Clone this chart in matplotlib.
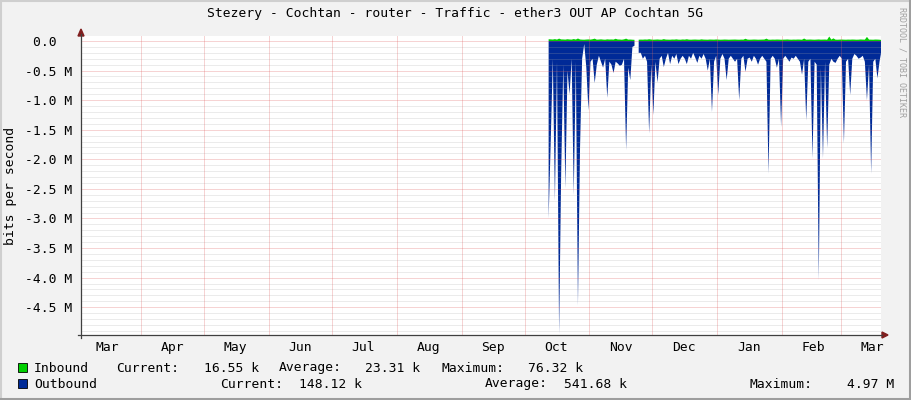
import numpy as np
import matplotlib
matplotlib.use("Agg")
import matplotlib.pyplot as plt
from matplotlib.patches import Polygon, Rectangle
import datetime as dt

W, H = 911, 400
nan = float("nan")

title = "Stezery - Cochtan - router - Traffic - ether3 OUT AP Cochtan 5G"
ylabel = "bits per second"

x_start = dt.datetime(2022, 3, 3, 5)
x_end = dt.datetime(2023, 3, 20, 5)
data_start = dt.datetime(2022, 10, 12, 0)

# Outbound traffic, Mbit/s, one value per day from 2022-10-12 (drawn negative)
outbound_M = [
    3.0, 1.7, 0.3, 2.7, 0.35, 4.95, 2.2, 0.4, 2.49, 0.5,
    0.9, 0.3, 2.6, 0.35, 4.47, 1.8, 0.3, 0.05, 0.45, 1.17,
    0.35, 0.3, 0.71, 0.4, 0.25, 0.35, 0.45, 0.3, 0.96, 0.35,
    0.4, 0.54, 0.35, 0.38, 0.42, 0.4, 0.3, 1.84, 0.45, 0.66,
    0.1, 0.08, nan, 0.2, 0.2, 0.3, 0.25, 0.35, 1.56, 0.4,
    1.25, 0.35, 0.7, 0.3, 0.25, 0.44, 0.3, 0.2, 0.39, 0.25,
    0.3, 0.22, 0.39, 0.3, 0.25, 0.3, 0.39, 0.25, 0.3, 0.2,
    0.28, 0.37, 0.25, 0.3, 0.22, 0.3, 0.5, 0.3, 1.2, 0.35,
    0.25, 0.91, 0.3, 0.22, 0.3, 0.66, 0.3, 0.25, 0.3, 0.35,
    0.3, 1.0, 0.3, 0.25, 0.52, 0.3, 0.28, 0.35, 0.25, 0.3,
    0.4, 0.3, 0.25, 0.3, 0.35, 2.24, 0.3, 0.25, 0.3, 0.45,
    0.3, 1.45, 0.3, 0.25, 0.3, 0.35, 0.28, 0.3, 0.25, 0.3,
    0.35, 0.57, 0.3, 1.34, 0.35, 0.3, 1.98, 0.35, 0.4, 4.04,
    0.45, 1.98, 0.35, 1.81, 0.4, 0.3, 0.35, 0.37, 0.3, 0.25,
    0.3, 1.73, 0.35, 0.3, 0.91, 0.3, 0.22, 0.25, 0.3, 0.28,
    0.25, 0.35, 1.0, 0.4, 2.24, 0.35, 0.3, 0.63, 0.35, 0.148,
]

# Inbound traffic, kbit/s, one value per day from 2022-10-12
inbound_k = [
    30, 28, 25, 32, 24, 40, 27, 26, 24, 30,
    26, 24, 33, 25, 42, 26, 23, 22, 25, 27,
    24, 30, 40, 23, 25, 28, 24, 22, 28, 25,
    26, 24, 38, 26, 25, 22, 28, 40, 24, 25,
    22, 20, nan, 22, 24, 23, 26, 24, 30, 25,
    22, 24, 26, 23, 22, 32, 24, 23, 22, 25,
    24, 28, 23, 22, 26, 24, 30, 23, 22, 24,
    25, 23, 22, 28, 24, 23, 22, 25, 24, 23,
    26, 24, 22, 23, 25, 24, 22, 23, 24, 25,
    23, 22, 24, 23, 38, 24, 22, 23, 25, 24,
    22, 23, 24, 25, 40, 23, 22, 24, 23, 25,
    24, 22, 23, 24, 26, 23, 22, 24, 23, 25,
    24, 22, 42, 23, 24, 25, 23, 22, 24, 26,
    23, 24, 25, 22, 76.32, 24, 45, 23, 22, 24,
    25, 23, 22, 24, 23, 25, 24, 22, 23, 26,
    24, 23, 70, 24, 23, 22, 25, 24, 22, 16.55,
]

months = [(2022, 3), (2022, 4), (2022, 5), (2022, 6), (2022, 7), (2022, 8),
          (2022, 9), (2022, 10), (2022, 11), (2022, 12), (2023, 1), (2023, 2),
          (2023, 3)]
month_labels = ["Mar", "Apr", "May", "Jun", "Jul", "Aug", "Sep", "Oct",
                "Nov", "Dec", "Jan", "Feb", "Mar"]

y_major = [0, -0.5, -1.0, -1.5, -2.0, -2.5, -3.0, -3.5, -4.0, -4.5]
y_labels = ["0.0  ", "-0.5 M", "-1.0 M", "-1.5 M", "-2.0 M", "-2.5 M",
            "-3.0 M", "-3.5 M", "-4.0 M", "-4.5 M"]

legend_rows = [
    ("Inbound", "#00CF00", [("Current:", 116, "left"), ("16.55 k", 259, "right"),
                            ("Average:", 279, "left"), ("23.31 k", 420, "right"),
                            ("Maximum:", 441, "left"), ("76.32 k", 583, "right")]),
    ("Outbound", "#002A97", [("Current:", 220, "left"), ("148.12 k", 362, "right"),
                             ("Average:", 485, "left"), ("541.68 k", 627, "right"),
                             ("Maximum:", 750, "left"), ("4.97 M", 894, "right")]),
]

FONT = "DejaVu Sans Mono"
FS = 9.4
BG = "#F2F2F2"

fig = plt.figure(figsize=(W / 100, H / 100), dpi=100, facecolor=BG)
ax = fig.add_axes([81 / W, 65 / H, 800 / W, 299 / H])
ax.set_facecolor("white")

dates = [data_start + dt.timedelta(days=i, hours=12) for i in range(len(outbound_M))]
out = np.array(outbound_M, dtype=float) * 1e6
inn = np.array(inbound_k, dtype=float) * 1e3

ax.fill_between(dates, 0, inn, color="#00CF00", linewidth=0, zorder=2)
ax.fill_between(dates, 0, -out, color="#002A97", linewidth=0, zorder=2)

ax.set_xlim(x_start, x_end)
ax.set_ylim(-4.97e6, 84.6e3)

# grid
minor_vals = np.arange(0, -4.95, -0.1)
for v in minor_vals:
    if abs(round(v * 2) - v * 2) < 1e-6:
        continue
    ax.axhline(v * 1e6, color="#A8A8A8", lw=0.72, ls=(0, (1, 1)), alpha=0.45, zorder=3)
for v in y_major:
    ax.axhline(v * 1e6, color="#E06060", lw=0.72, ls=(0, (1, 1)), alpha=0.55, zorder=3)
for (yy, mm) in months[1:]:
    ax.axvline(dt.datetime(yy, mm, 1), color="#E06060", lw=0.72, ls=(0, (1, 1)),
               alpha=0.55, zorder=3)

ax.set_yticks([v * 1e6 for v in y_major])
ax.set_yticklabels(y_labels, fontfamily=FONT, fontsize=FS)
ax.tick_params(axis="y", length=0, pad=6)

ax.set_xticks([dt.datetime(yy, mm, 16) for (yy, mm) in months])
ax.set_xticklabels(month_labels, fontfamily=FONT, fontsize=FS)
ax.tick_params(axis="x", length=0, pad=4)

for s in ax.spines.values():
    s.set_visible(False)

# overlay for decorations in pixel coordinates
ov = fig.add_axes([0, 0, 1, 1], facecolor="none")
ov.set_xlim(0, W)
ov.set_ylim(H, 0)
ov.axis("off")

ov.text(11, 186, ylabel, fontfamily=FONT, fontsize=FS, rotation=90,
        ha="center", va="center")

# axes lines and arrows
ov.plot([81, 81], [338, 34], color="#404040", lw=0.9)
ov.plot([78, 882], [335, 335], color="#404040", lw=0.9)
ov.add_patch(Polygon([[78, 36], [84, 36], [81, 29]], closed=True, color="#801F1F"))
ov.add_patch(Polygon([[882, 332], [882, 338], [888, 335]], closed=True, color="#801F1F"))

# borders
ov.plot([0, W], [0.8, 0.8], color="#CFCFCF", lw=1.5)
ov.plot([0.8, 0.8], [0, H], color="#CFCFCF", lw=1.5)
ov.plot([W - 1.5, W - 1.5], [0, H], color="#9E9E9E", lw=2.2)
ov.plot([0, W], [H - 1.5, H - 1.5], color="#9E9E9E", lw=2.2)

# title
ov.text(455, 14, title, fontfamily=FONT, fontsize=FS, ha="center", va="center")

# watermark
ov.text(902, 7, "RRDTOOL / TOBI OETIKER", fontfamily=FONT, fontsize=6.0,
        color="#A0A0A0", rotation=270, ha="center", va="top")

# legend
row_y = [368, 384]
for (name, col, items), yy in zip(legend_rows, row_y):
    ov.add_patch(Rectangle((18, yy - 5), 9, 9, facecolor=col, edgecolor="#000000", lw=0.6))
    ov.text(34, yy, name, fontfamily=FONT, fontsize=FS, ha="left", va="center")
    for txt, xx, ha in items:
        ov.text(xx, yy, txt, fontfamily=FONT, fontsize=FS, ha=ha, va="center")

fig.savefig("out.png", dpi=100, facecolor=BG)
